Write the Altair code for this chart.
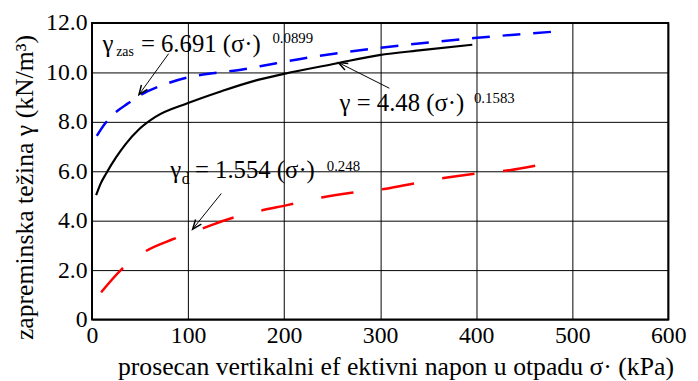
import altair as alt
import pandas as pd
import numpy as np

FONT = "'Liberation Serif', 'DejaVu Serif', serif"

# ---- data ----
# black solid: gamma = 4.48 (sigma)^0.1583
black_sigma = [4.3, 9, 14.6, 25, 35, 49, 66, 100, 134, 169, 200, 254, 299, 343, 396]
black_gamma = [5.03, 5.5, 5.9, 6.56, 7.1, 7.7, 8.2, 8.76, 9.23, 9.66, 9.94, 10.36, 10.7, 10.9, 11.12]

# blue dashed: gamma_zas = 6.691 (sigma)^0.0899
blue_sigma = [5, 13, 23, 38, 49, 78, 100, 128, 158, 175, 225, 299, 398, 484]
blue_gamma = [7.43, 7.9, 8.33, 8.76, 9.05, 9.55, 9.8, 9.98, 10.13, 10.25, 10.6, 10.99, 11.39, 11.66]

# red dashed: gamma_d = 1.554 (sigma)^0.248
red_sigma = [9.5, 30, 54, 85, 114, 145, 175, 203, 239, 272, 304, 337, 368, 402, 432, 466]
red_gamma = [1.1, 2.0, 2.72, 3.26, 3.67, 4.1, 4.4, 4.63, 4.94, 5.14, 5.28, 5.52, 5.74, 5.92, 6.03, 6.26]

x_ticks = [0, 100, 200, 300, 400, 500, 600]
y_ticks = [0, 2, 4, 6, 8, 10, 12]

# annotation texts
ann_text = ["γ", "zas", "= 6.691 (σ·)", "0.0899",
            "γ = 4.48 (σ·)", "0.1583",
            "γ", "d", "= 1.554 (σ·)", "0.248"]
ann_x = [10.8, 25.2, 50.9, 187.8, 257.8, 397.7, 81.5, 93.4, 107.2, 244.4]
ann_y = [10.83, 10.66, 10.83, 11.2, 8.43, 8.76, 5.72, 5.5, 5.72, 6.03]
ann_size = [25, 14, 25, 15, 25, 15, 25, 16, 25, 15]

# arrows (start -> tip)
arr_x = [79.8, 309.6, 134.6]
arr_y = [10.76, 9.36, 5.1]
arr_x2 = [48.9, 256.5, 104.8]
arr_y2 = [9.1, 10.4, 3.66]

W, H = 583, 300
XMAX, YMAX = 600, 12

black = pd.DataFrame({"s": black_sigma, "g": black_gamma})
blue = pd.DataFrame({"s": blue_sigma, "g": blue_gamma})
red = pd.DataFrame({"s": red_sigma, "g": red_gamma})
ann = pd.DataFrame({"x": ann_x, "y": ann_y, "t": ann_text, "size": ann_size})
arr = pd.DataFrame({"x": arr_x, "y": arr_y, "x2": arr_x2, "y2": arr_y2})
dx = (np.array(arr_x2) - np.array(arr_x)) * W / XMAX
dy = -(np.array(arr_y2) - np.array(arr_y)) * H / YMAX
arr["angle"] = (np.degrees(np.arctan2(dx, -dy)) + 360) % 360

xs = alt.Scale(domain=[0, XMAX], nice=False, zero=False)
ys = alt.Scale(domain=[0, YMAX], nice=False, zero=False)

xaxis = alt.Axis(values=x_ticks, grid=True, gridColor="black", gridWidth=1, gridOpacity=1,
                 domain=False, ticks=False, labelFont=FONT, labelFontSize=24, labelColor="black",
                 labelPadding=4, labelFlush=False,
                 title="prosecan vertikalni ef ektivni napon u otpadu σ· (kPa)",
                 titleFont=FONT, titleFontSize=26, titleFontWeight="normal", titleColor="black",
                 titleX=307, titleY=56, titleBaseline="alphabetic", titleAlign="center")
yaxis = alt.Axis(values=y_ticks, grid=True, gridColor="black", gridWidth=1, gridOpacity=1,
                 domain=False, ticks=False, labelFont=FONT, labelFontSize=24, labelColor="black",
                 labelPadding=5, labelFlush=False,
                 labelExpr="datum.value == 0 ? '0' : format(datum.value, '.1f')",
                 title="zapreminska težina γ (kN/m³)",
                 titleFont=FONT, titleFontSize=26, titleFontWeight="normal", titleColor="black",
                 titleX=-60, titleY=166, titleAngle=-90, titleBaseline="alphabetic", titleAlign="center")

base_black = alt.Chart(black).mark_line(color="black", strokeWidth=2.2, interpolate="monotone").encode(
    x=alt.X("s:Q", scale=xs, axis=xaxis),
    y=alt.Y("g:Q", scale=ys, axis=yaxis),
)
line_blue = alt.Chart(blue).mark_line(color="#0000ff", strokeWidth=2.5, strokeDash=[18, 13],
                                      interpolate="monotone").encode(
    x=alt.X("s:Q", scale=xs), y=alt.Y("g:Q", scale=ys))
line_red = alt.Chart(red).mark_line(color="#ff0000", strokeWidth=2.5, strokeDash=[33, 29],
                                    interpolate="monotone").encode(
    x=alt.X("s:Q", scale=xs), y=alt.Y("g:Q", scale=ys))

texts = alt.Chart(ann).mark_text(font=FONT, color="black", align="left", baseline="alphabetic").encode(
    x=alt.X("x:Q", scale=xs), y=alt.Y("y:Q", scale=ys), text="t:N",
    size=alt.Size("size:Q", scale=None, legend=None))

rules = alt.Chart(arr).mark_rule(color="black", strokeWidth=1).encode(
    x=alt.X("x:Q", scale=xs), y=alt.Y("y:Q", scale=ys), x2="x2:Q", y2="y2:Q")

heads = alt.Chart(arr).mark_point(shape="M -0.4 1 L 0 0 L 0.4 1", filled=False, color="black",
                                  strokeWidth=1.5, size=350, opacity=1).encode(
    x=alt.X("x2:Q", scale=xs), y=alt.Y("y2:Q", scale=ys),
    angle=alt.Angle("angle:Q", scale=None))

chart = alt.layer(base_black, line_blue, line_red, rules, heads, texts).properties(
    width=W, height=H,
    padding={"left": 85, "top": 13, "right": 22, "bottom": 60},
    autosize=alt.AutoSizeParams(type="none"),
    background="white",
).configure_view(stroke="black", strokeWidth=2)

chart.save("out.html", embed_options={"renderer": "svg", "actions": False})
